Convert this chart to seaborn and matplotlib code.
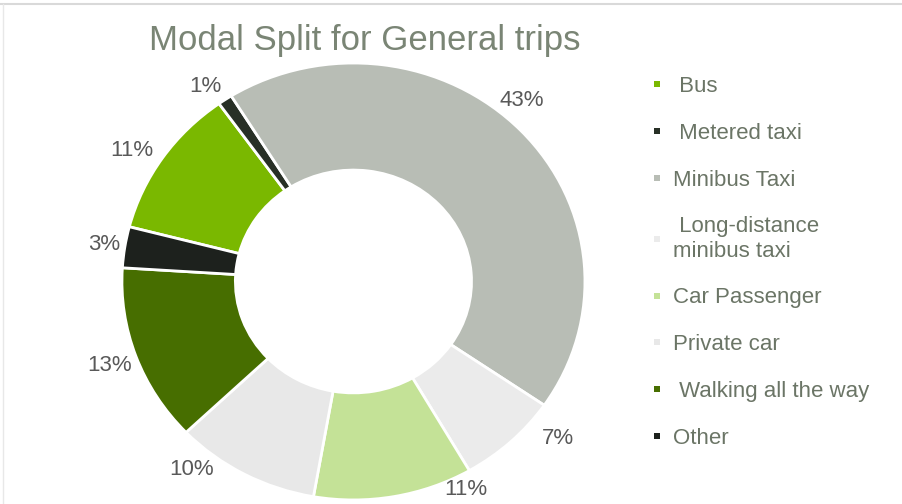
import numpy as np
import matplotlib.pyplot as plt
import seaborn as sns
from matplotlib.lines import Line2D

# -----------------------------
# Data
# -----------------------------
modes = [" Bus", " Metered taxi", "Minibus Taxi", " Long-distance\nminibus taxi",
         "Car Passenger", "Private car", " Walking all the way", "Other"]
shares = [11, 1, 43, 7, 11, 10, 13, 3]
colors = ["#7AB800", "#283026", "#B8BDB5", "#EBEBEB",
          "#C4E297", "#E8E8E8", "#476E00", "#1D211D"]

sns.set_theme(style="white")
plt.rcParams["font.family"] = ["Liberation Sans", "DejaVu Sans"]

fig = plt.figure(figsize=(9.02, 5.04), dpi=100)
# axes sized so the ring sits left of the legend (slightly wider than tall, like the source)
ax = fig.add_axes([0.0582, -0.122, 0.6673, 1.127])

wedges, _ = ax.pie(
    shares,
    colors=colors,
    startangle=165.5,
    counterclock=False,
    wedgeprops=dict(width=0.49, edgecolor="white", linewidth=2),
)
ax.set_aspect("auto")
ax.set_xlim(-1.3, 1.3)
ax.set_ylim(-1.3, 1.3)
ax.axis("off")

# -----------------------------
# Percentage labels outside the ring
# -----------------------------
# small angular nudges (degrees, clockwise) and radii so labels sit where the original put them
label_shift = [-2.5, -2, -5, -8, -17, 11, 0, 0]
label_r = [1.13, 1.10, 1.10, 1.14, 1.07, 1.11, 1.12, 1.09]
for w, v, d, r in zip(wedges, shares, label_shift, label_r):
    mid = np.deg2rad((w.theta1 + w.theta2) / 2 - d)
    ax.text(r * np.cos(mid), r * np.sin(mid), f"{v}%",
            ha="center", va="center", fontsize=16, color="#595959")

# -----------------------------
# Legend
# -----------------------------
handles = [Line2D([], [], marker="s", linestyle="none", markersize=5,
                  markeredgewidth=0, color=c) for c in colors]
fig.legend(handles, modes, loc="upper left",
           bbox_to_anchor=(650.5 / 902, 1 - 76 / 504),
           frameon=False, fontsize=16, labelcolor="#6B7566",
           handlelength=0.6, handletextpad=0.4, labelspacing=1.16,
           borderpad=0, borderaxespad=0)

fig.text(365 / 902, 1 - 50 / 504, "Modal Split for General trips",
         ha="center", va="baseline", fontsize=25, color="#7A8575")

# thin frame lines at top and left edge
fig.add_artist(Line2D([0, 1], [1 - 4 / 504] * 2, transform=fig.transFigure,
                      color="#D9D9D9", lw=1.5))
fig.add_artist(Line2D([3 / 902] * 2, [0, 1 - 4 / 504], transform=fig.transFigure,
                      color="#E8E8E8", lw=1.0))

fig.savefig("out.png", dpi=100)
